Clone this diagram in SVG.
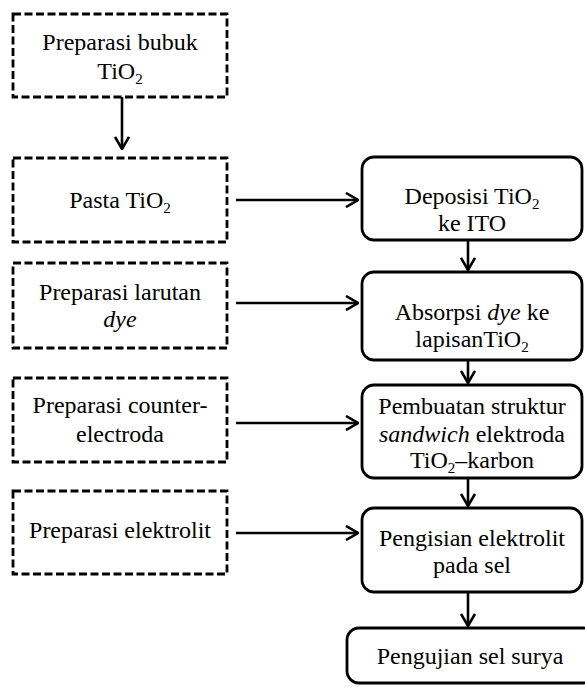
<svg xmlns="http://www.w3.org/2000/svg" width="585" height="687" viewBox="0 0 585 687">
<defs>
<style>
.dash{fill:#fff;stroke:#000;stroke-width:2.8;stroke-dasharray:8 3.5}
.solid{fill:#fff;stroke:#000;stroke-width:2.8}
.ln{fill:none;stroke:#000;stroke-width:2.6}
</style>
<marker id="ah" viewBox="0 0 14 16" refX="13" refY="8" markerWidth="14" markerHeight="16" markerUnits="userSpaceOnUse" orient="auto">
<path d="M1,1 L13,8 L1,15" fill="none" stroke="#000" stroke-width="2.6"/>
</marker>
</defs>
<rect width="585" height="687" fill="#fff"/>
<g id="connectors">
<line class="ln" x1="122" y1="97" x2="122" y2="149" marker-end="url(#ah)"/>
<line class="ln" x1="236" y1="200" x2="358" y2="200" marker-end="url(#ah)"/>
<line class="ln" x1="236" y1="303" x2="358" y2="303" marker-end="url(#ah)"/>
<line class="ln" x1="236" y1="423" x2="358" y2="423" marker-end="url(#ah)"/>
<line class="ln" x1="236" y1="533" x2="358" y2="533" marker-end="url(#ah)"/>
<line class="ln" x1="468" y1="240" x2="468" y2="270" marker-end="url(#ah)"/>
<line class="ln" x1="468" y1="360" x2="468" y2="383" marker-end="url(#ah)"/>
<line class="ln" x1="468" y1="478" x2="468" y2="506" marker-end="url(#ah)"/>
<line class="ln" x1="468" y1="592" x2="468" y2="626" marker-end="url(#ah)"/>
</g>
<g id="n1">
<rect class="dash" x="13" y="14" width="214" height="83"/>
<text x="120" y="50" font-family="Times New Roman" font-size="24" text-anchor="middle">Preparasi bubuk</text>
<text x="120" y="79" font-family="Times New Roman" font-size="24" text-anchor="middle">TiO<tspan font-size="15" dy="5">2</tspan></text>
</g>
<g id="n2">
<rect class="dash" x="13" y="158" width="214" height="84"/>
<text x="120" y="208" font-family="Times New Roman" font-size="24" text-anchor="middle">Pasta TiO<tspan font-size="15" dy="5">2</tspan></text>
</g>
<g id="n3">
<rect class="dash" x="13" y="263" width="214" height="85"/>
<text x="120" y="300" font-family="Times New Roman" font-size="24" text-anchor="middle">Preparasi larutan</text>
<text x="120" y="327" font-family="Times New Roman" font-size="24" text-anchor="middle" font-style="italic">dye</text>
</g>
<g id="n4">
<rect class="dash" x="13" y="378" width="214" height="84"/>
<text x="120" y="413" font-family="Times New Roman" font-size="24" text-anchor="middle">Preparasi counter-</text>
<text x="120" y="442" font-family="Times New Roman" font-size="24" text-anchor="middle">electroda</text>
</g>
<g id="n5">
<rect class="dash" x="13" y="491" width="214" height="83"/>
<text x="120" y="538" font-family="Times New Roman" font-size="24" text-anchor="middle">Preparasi elektrolit</text>
</g>
<g id="r1">
<rect class="solid" x="362" y="157" width="220" height="83" rx="12"/>
<text x="472" y="204" font-family="Times New Roman" font-size="24" text-anchor="middle">Deposisi TiO<tspan font-size="15" dy="5">2</tspan></text>
<text x="472" y="231" font-family="Times New Roman" font-size="24" text-anchor="middle">ke ITO</text>
</g>
<g id="r2">
<rect class="solid" x="362" y="272" width="220" height="88" rx="12"/>
<text x="472" y="320" font-family="Times New Roman" font-size="24" text-anchor="middle">Absorpsi <tspan font-style="italic">dye</tspan> ke</text>
<text x="472" y="347" font-family="Times New Roman" font-size="24" text-anchor="middle">lapisanTiO<tspan font-size="15" dy="5">2</tspan></text>
</g>
<g id="r3">
<rect class="solid" x="362" y="385" width="220" height="93" rx="12"/>
<text x="472" y="414" font-family="Times New Roman" font-size="24" text-anchor="middle">Pembuatan struktur</text>
<text x="472" y="442" font-family="Times New Roman" font-size="24" text-anchor="middle"><tspan font-style="italic">sandwich</tspan> elektroda</text>
<text x="472" y="468" font-family="Times New Roman" font-size="24" text-anchor="middle">TiO<tspan font-size="15" dy="5">2</tspan><tspan dy="-5">&#8211;karbon</tspan></text>
</g>
<g id="r4">
<rect class="solid" x="362" y="508" width="220" height="84" rx="12"/>
<text x="472" y="546" font-family="Times New Roman" font-size="24" text-anchor="middle">Pengisian elektrolit</text>
<text x="472" y="573" font-family="Times New Roman" font-size="24" text-anchor="middle">pada sel</text>
</g>
<g id="r5">
<rect class="solid" x="347" y="628" width="248" height="55" rx="12"/>
<text x="470" y="664" font-family="Times New Roman" font-size="24" text-anchor="middle">Pengujian sel surya</text>
</g>
</svg>
